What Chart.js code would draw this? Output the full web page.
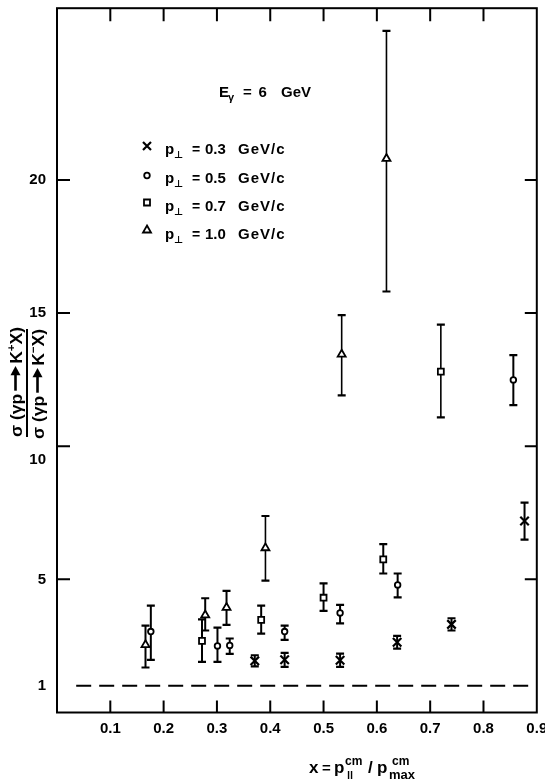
<!DOCTYPE html>
<html>
<head>
<meta charset="utf-8">
<script src="https://cdn.jsdelivr.net/npm/chart.js@4.4.1/dist/chart.umd.min.js"></script>
<style>
  html, body { margin: 0; padding: 0; background: #fff; overflow: hidden; }
  #wrap { position: relative; width: 545px; height: 779px; }
</style>
</head>
<body>
<div id="wrap"><canvas id="ratioChart" width="545" height="779"></canvas></div>
<script>
// ratio sigma(K+ X) / sigma(K- X) vs x, E_gamma = 6 GeV
const xTicks = [0.1, 0.2, 0.3, 0.4, 0.5, 0.6, 0.7, 0.8, 0.9];
const yTicks = [1, 5, 10, 15, 20];
const yTickMarks = [5, 10, 15, 20];

// p_perp = 0.3 GeV/c (crosses)
const crossX  = [0.371, 0.427, 0.531, 0.638, 0.740, 0.877];
const crossY  = [1.94, 1.98, 1.96, 2.64, 3.31, 7.19];
const crossLo = [1.73, 1.71, 1.71, 2.40, 3.08, 6.49];
const crossHi = [2.15, 2.24, 2.21, 2.88, 3.54, 7.88];

// p_perp = 0.5 GeV/c (circles)
const circleX  = [0.176, 0.301, 0.324, 0.427, 0.531, 0.639, 0.856];
const circleY  = [3.04, 2.50, 2.52, 3.04, 3.74, 4.79, 12.49];
const circleLo = [1.98, 1.90, 2.20, 2.73, 3.35, 4.32, 11.54];
const circleHi = [4.01, 3.19, 2.78, 3.26, 4.04, 5.22, 13.42];

// p_perp = 0.7 GeV/c (squares)
const squareX  = [0.272, 0.383, 0.500, 0.612, 0.720];
const squareY  = [2.69, 3.48, 4.31, 5.75, 12.80];
const squareLo = [1.90, 2.96, 3.82, 5.22, 11.08];
const squareHi = [3.50, 4.01, 4.85, 6.32, 14.57];

// p_perp = 1.0 GeV/c (triangles)
const triX  = [0.166, 0.278, 0.318, 0.391, 0.534, 0.618];
const triY  = [2.54, 3.66, 3.94, 6.18, 13.45, 20.80];
const triLo = [1.69, 3.08, 3.29, 4.95, 11.91, 15.81];
const triHi = [3.26, 4.29, 4.57, 7.38, 14.92, 25.60];

const refX = [0.036, 0.9];
const refY = [1, 1];

const FONT = '"Liberation Sans", Arial, "DejaVu Sans", sans-serif';

function pts(xs, ys) {
  return xs.map((x, i) => ({ x: x, y: ys[i] }));
}

function series(label, xs, ys, lo, hi, style, radius) {
  return {
    label: label,
    data: pts(xs, ys),
    errLo: lo,
    errHi: hi,
    pointStyle: style,
    pointRadius: radius,
    pointBackgroundColor: '#fff',
    pointBorderColor: '#000',
    pointBorderWidth: style === 'crossRot' ? 2.2 : 1.8,
    order: 1
  };
}

// vertical error bars with caps, drawn under the markers
const errorBars = {
  id: 'errorBars',
  beforeDatasetsDraw(chart) {
    const { ctx, scales: { x, y } } = chart;
    ctx.save();
    ctx.strokeStyle = '#000';
    ctx.lineCap = 'butt';
    chart.data.datasets.forEach(ds => {
      if (!ds.errLo) return;
      ds.data.forEach((p, i) => {
        const px = x.getPixelForValue(p.x);
        const top = y.getPixelForValue(ds.errHi[i]);
        const bot = y.getPixelForValue(ds.errLo[i]);
        const cap = 4;
        ctx.lineWidth = (bot - top) > 60 ? 1.6 : 2;
        ctx.beginPath();
        ctx.moveTo(px, top);
        ctx.lineTo(px, bot);
        ctx.stroke();
        ctx.lineWidth = 2.2;
        ctx.beginPath();
        ctx.moveTo(px - cap, top);
        ctx.lineTo(px + cap, top);
        ctx.moveTo(px - cap, bot);
        ctx.lineTo(px + cap, bot);
        ctx.stroke();
      });
    });
    ctx.restore();
  }
};

function txt(ctx, s, x, y, size) {
  ctx.font = 'bold ' + size + 'px ' + FONT;
  ctx.fillText(s, x, y);
}

function marker(ctx, kind, x, y) {
  ctx.beginPath();
  ctx.lineWidth = kind === 'cross' ? 2.2 : 1.8;
  if (kind === 'cross') {
    ctx.moveTo(x - 4, y - 4); ctx.lineTo(x + 4, y + 4);
    ctx.moveTo(x + 4, y - 4); ctx.lineTo(x - 4, y + 4);
  } else if (kind === 'circle') {
    ctx.arc(x, y, 2.8, 0, Math.PI * 2);
  } else if (kind === 'square') {
    ctx.rect(x - 3, y - 3, 6, 6);
  } else {
    ctx.moveTo(x, y - 4.5); ctx.lineTo(x + 4, y + 2.5); ctx.lineTo(x - 4, y + 2.5); ctx.closePath();
  }
  ctx.stroke();
}

// rotated ratio label: sigma(gamma p -> K X)
function ratioText(ctx, baseX, startY, charge) {
  const size = 17;
  ctx.save();
  ctx.translate(baseX, startY);
  ctx.rotate(-Math.PI / 2);
  ctx.font = 'bold ' + size + 'px ' + FONT;
  const w1 = ctx.measureText('σ (γp').width;
  const arrow = 24;
  const wK = ctx.measureText('K').width;
  ctx.font = 'bold 11px ' + FONT;
  const wS = ctx.measureText(charge).width;
  ctx.font = 'bold ' + size + 'px ' + FONT;
  const wX = ctx.measureText('X)').width;
  const total = w1 + 3 + arrow + 2 + wK + wS + wX;
  ctx.scale(110 / total, 1);
  let u = 0;
  ctx.fillText('σ (γp', u, 0); u += w1 + 3;
  // arrow
  const mid = -6;
  ctx.lineWidth = 2.6;
  ctx.beginPath(); ctx.moveTo(u, mid); ctx.lineTo(u + arrow - 8, mid); ctx.stroke();
  ctx.beginPath(); ctx.moveTo(u + arrow - 9, mid - 5); ctx.lineTo(u + arrow, mid); ctx.lineTo(u + arrow - 9, mid + 5); ctx.closePath(); ctx.fill();
  u += arrow + 2;
  ctx.fillText('K', u, 0); u += wK;
  ctx.font = 'bold 11px ' + FONT;
  ctx.fillText(charge, u, -7); u += wS;
  ctx.font = 'bold ' + size + 'px ' + FONT;
  ctx.fillText('X)', u, 0);
  ctx.restore();
}

const decorations = {
  id: 'decorations',
  afterDraw(chart) {
    const { ctx, chartArea: a, scales: { x, y } } = chart;
    ctx.save();
    ctx.strokeStyle = '#000';
    ctx.fillStyle = '#000';
    // frame
    ctx.lineWidth = 2;
    ctx.strokeRect(a.left, a.top, a.right - a.left, a.bottom - a.top);
    // inward tick marks
    ctx.beginPath();
    xTicks.slice(0, -1).forEach(v => {
      const px = x.getPixelForValue(v);
      ctx.moveTo(px, a.bottom); ctx.lineTo(px, a.bottom - 12);
      ctx.moveTo(px, a.top); ctx.lineTo(px, a.top + 13);
    });
    yTickMarks.forEach(v => {
      const py = y.getPixelForValue(v);
      ctx.moveTo(a.left, py); ctx.lineTo(a.left + 13, py);
      ctx.moveTo(a.right, py); ctx.lineTo(a.right - 12, py);
    });
    ctx.stroke();

    // y axis title as a fraction
    ratioText(ctx, 21.5, 437, '+');
    ctx.lineWidth = 2;
    ctx.beginPath(); ctx.moveTo(27, 329); ctx.lineTo(27, 437); ctx.stroke();
    ratioText(ctx, 43.5, 439, '−');

    // x axis title
    ctx.textBaseline = 'alphabetic';
    txt(ctx, 'x', 309, 773, 17);
    txt(ctx, '=', 322, 773, 15);
    txt(ctx, 'p', 334, 773, 17);
    txt(ctx, 'cm', 345, 765, 12);
    txt(ctx, '||', 347, 779, 11);
    txt(ctx, '/', 368, 773, 17);
    txt(ctx, 'p', 377, 773, 17);
    txt(ctx, 'cm', 392, 765, 12);
    txt(ctx, 'max', 389, 779, 13);

    // energy label
    txt(ctx, 'E', 219, 97, 15);
    txt(ctx, 'γ', 228, 101, 11);
    txt(ctx, '=', 243, 97, 15);
    txt(ctx, '6', 258.5, 97, 15);
    txt(ctx, 'GeV', 281, 97, 15);

    // legend
    const rows = [
      ['cross', '0.3', 146, 154],
      ['circle', '0.5', 175.5, 182.7],
      ['square', '0.7', 202.5, 210.7],
      ['triangle', '1.0', 230, 239]
    ];
    rows.forEach(r => {
      marker(ctx, r[0], 147, r[2]);
      txt(ctx, 'p', 165, r[3], 15);
      txt(ctx, '⊥', 174, r[3] + 4, 10);
      txt(ctx, '=', 192, r[3], 14);
      txt(ctx, r[1], 205, r[3], 15);
      ctx.letterSpacing = '1px';
      txt(ctx, 'GeV/c', 238, r[3], 15);
      ctx.letterSpacing = '0px';
    });
    ctx.restore();
  }
};

new Chart(document.getElementById('ratioChart'), {
  type: 'scatter',
  data: {
    datasets: [
      {
        label: 'ratio = 1',
        type: 'line',
        data: pts(refX, refY),
        borderColor: '#000',
        borderWidth: 2,
        borderDash: [15, 8],
        pointRadius: 0,
        fill: false,
        order: 5
      },
      series('p⊥ = 0.3 GeV/c', crossX, crossY, crossLo, crossHi, 'crossRot', 6),
      series('p⊥ = 0.5 GeV/c', circleX, circleY, circleLo, circleHi, 'circle', 2.8),
      series('p⊥ = 0.7 GeV/c', squareX, squareY, squareLo, squareHi, 'rect', 4.2),
      series('p⊥ = 1.0 GeV/c', triX, triY, triLo, triHi, 'triangle', 4.6)
    ]
  },
  options: {
    responsive: false,
    animation: false,
    devicePixelRatio: 1,
    layout: { padding: { top: 5.5, right: 5, bottom: 0, left: 0 } },
    plugins: { legend: { display: false }, tooltip: { enabled: false } },
    scales: {
      x: {
        type: 'linear',
        min: 0,
        max: 0.9,
        grid: { display: false, drawTicks: false },
        border: { display: false },
        ticks: {
          color: '#000',
          font: { family: FONT, size: 15, weight: 'bold' },
          padding: 7,
          maxRotation: 0,
          autoSkip: false,
          callback: v => v.toFixed(1)
        },
        afterBuildTicks: s => { s.ticks = xTicks.map(v => ({ value: v })); },
        afterFit: s => { s.height = 66.5; s.paddingLeft = 0; s.paddingRight = 0; }
      },
      y: {
        type: 'linear',
        min: 0,
        max: 26.45,
        grid: { display: false, drawTicks: false },
        border: { display: false },
        ticks: {
          color: '#000',
          font: { family: FONT, size: 15, weight: 'bold', lineHeight: 1.8 },
          padding: 11,
          autoSkip: false,
          callback: v => (v === 10 ? ['', '10'] : String(v))
        },
        afterBuildTicks: s => { s.ticks = yTicks.map(v => ({ value: v })); },
        afterFit: s => { s.width = 57; s.paddingTop = 0; s.paddingBottom = 0; }
      }
    }
  },
  plugins: [errorBars, decorations]
});
</script>
</body>
</html>
